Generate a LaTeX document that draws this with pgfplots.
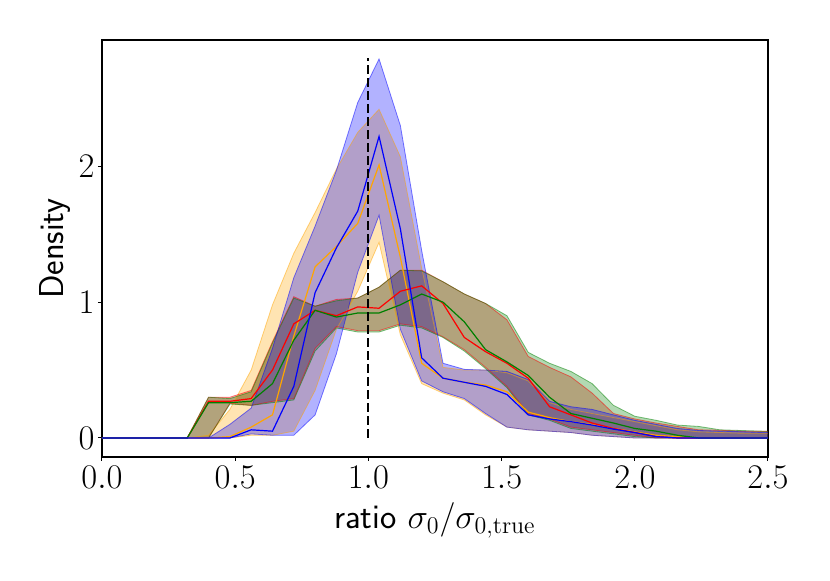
\documentclass[border=0pt]{standalone}
\usepackage{fontspec}
\usepackage{pgfplots}
\pgfplotsset{compat=1.18}
\usepackage{pgfplotstable}
\usepgfplotslibrary{fillbetween}
\definecolor{mplorange}{rgb}{1,0.647,0}
\definecolor{mplgreen}{rgb}{0,0.502,0}
\definecolor{mplred}{rgb}{1,0,0}
\definecolor{mplblue}{rgb}{0,0,1}

\pgfplotstableread{
x lo mid hi
0.00 0 0 0
0.08 0 0 0
0.16 0 0 0
0.24 0 0 0
0.32 0 0 0
0.40 0 0 0.02
0.48 0 0.01 0.21
0.56 0.02 0.08 0.50
0.64 0.02 0.17 0.98
0.72 0.05 0.75 1.36
0.80 0.35 1.26 1.66
0.88 0.80 1.41 1.98
0.96 1.08 1.58 2.25
1.04 1.44 2.01 2.42
1.12 0.76 1.33 2.07
1.20 0.40 0.55 1.25
1.28 0.33 0.44 0.52
1.36 0.28 0.41 0.50
1.44 0.17 0.39 0.50
1.52 0.08 0.34 0.48
1.60 0.06 0.19 0.42
1.68 0.05 0.15 0.26
1.76 0.04 0.12 0.21
1.84 0.02 0.10 0.18
1.92 0.01 0.07 0.15
2.00 0 0.045 0.12
2.08 0 0.02 0.09
2.16 0 0.01 0.06
2.24 0 0 0.045
2.32 0 0 0.04
2.40 0 0 0.035
2.48 0 0 0.035
2.56 0 0 0.035
}\odata

\pgfplotstableread{
x lo mid hi
0.00 0 0 0
0.08 0 0 0
0.16 0 0 0
0.24 0 0 0
0.32 0 0 0
0.40 0 0.27 0.30
0.48 0.255 0.27 0.30
0.56 0.24 0.29 0.35
0.64 0.27 0.50 0.71
0.72 0.29 0.84 1.04
0.80 0.66 0.94 0.97
0.88 0.82 0.90 1.02
0.96 0.79 0.965 1.03
1.04 0.79 0.955 1.11
1.12 0.84 1.08 1.235
1.20 0.82 1.12 1.235
1.28 0.745 0.99 1.15
1.36 0.65 0.74 1.06
1.44 0.52 0.635 0.99
1.52 0.38 0.55 0.87
1.60 0.18 0.44 0.60
1.68 0.14 0.23 0.52
1.76 0.08 0.17 0.45
1.84 0.06 0.11 0.33
1.92 0.04 0.07 0.18
2.00 0.02 0.04 0.14
2.08 0 0.01 0.11
2.16 0 0 0.085
2.24 0 0 0.06
2.32 0 0 0.057
2.40 0 0 0.05
2.48 0 0 0.05
2.56 0 0 0.05
}\rdata

\pgfplotstableread{
x lo mid hi
0.00 0 0 0
0.08 0 0 0
0.16 0 0 0
0.24 0 0 0
0.32 0 0 0
0.40 0 0.26 0.30
0.48 0.25 0.26 0.29
0.56 0.24 0.27 0.34
0.64 0.26 0.40 0.70
0.72 0.28 0.72 1.03
0.80 0.64 0.94 0.97
0.88 0.81 0.89 1.01
0.96 0.78 0.92 1.03
1.04 0.78 0.92 1.11
1.12 0.83 0.98 1.235
1.20 0.81 1.06 1.23
1.28 0.74 1.00 1.15
1.36 0.64 0.855 1.06
1.44 0.51 0.65 0.99
1.52 0.37 0.56 0.90
1.60 0.17 0.46 0.63
1.68 0.13 0.30 0.55
1.76 0.07 0.18 0.49
1.84 0.05 0.145 0.40
1.92 0.03 0.11 0.24
2.00 0.01 0.07 0.16
2.08 0 0.05 0.13
2.16 0 0.02 0.095
2.24 0 0 0.085
2.32 0 0 0.06
2.40 0 0 0.055
2.48 0 0 0.05
2.56 0 0 0.05
}\gdata

\pgfplotstableread{
x lo mid hi
0.00 0 0 0
0.08 0 0 0
0.16 0 0 0
0.24 0 0 0
0.32 0 0 0
0.40 0 0 0
0.48 0 0 0.10
0.56 0.03 0.06 0.22
0.64 0.02 0.05 0.66
0.72 0.02 0.38 1.18
0.80 0.17 1.07 1.56
0.88 0.62 1.40 1.97
0.96 1.22 1.67 2.47
1.04 1.64 2.22 2.79
1.12 0.80 1.54 2.30
1.20 0.42 0.59 1.38
1.28 0.34 0.44 0.55
1.36 0.29 0.41 0.505
1.44 0.18 0.38 0.50
1.52 0.08 0.32 0.49
1.60 0.06 0.17 0.43
1.68 0.05 0.14 0.27
1.76 0.04 0.12 0.23
1.84 0.02 0.095 0.21
1.92 0.01 0.065 0.17
2.00 0 0.04 0.13
2.08 0 0.01 0.10
2.16 0 0 0.07
2.24 0 0 0.055
2.32 0 0 0.05
2.40 0 0 0.046
2.48 0 0 0.04
2.56 0 0 0.04
}\bdata

\begin{document}
\begin{tikzpicture}
\begin{axis}[
  scale only axis,
  width=333pt, height=208.5pt,
  xmin=0, xmax=2.5, ymin=-0.14, ymax=2.93,
  xtick={0,0.5,1,1.5,2,2.5},
  xticklabels={$0.0$,$0.5$,$1.0$,$1.5$,$2.0$,$2.5$},
  ytick={0,1,2},
  tick align=outside, tick pos=left,
  major tick length=2pt,
  every tick/.style={black, line width=0.5pt},
  tick label style={font=\fontsize{17.28}{21}\selectfont},
  xticklabel style={yshift=0.8pt},
  yticklabel style={xshift=1.8pt},
  label style={font=\fontsize{17.28}{21}\selectfont},
  xlabel={\sffamily ratio $\sigma_0/\sigma_{0,\mathrm{true}}$},
  ylabel={\sffamily Density},
  xlabel style={at={(axis description cs:0.5,-0.153)}, anchor=center},
  ylabel style={at={(axis description cs:-0.0706,0.5)}, anchor=center},
  axis line style={line width=0.6pt},
  clip=true,
]
% bands
\addplot[draw=mplorange, draw opacity=0.5, line width=0.4pt, name path=ohi] table[x=x,y=hi]{\odata};
\addplot[draw=mplorange, draw opacity=0.5, line width=0.4pt, name path=olo] table[x=x,y=lo]{\odata};
\addplot[fill=mplorange, fill opacity=0.3, draw=none] fill between[of=ohi and olo];

\addplot[draw=mplred, draw opacity=0.5, line width=0.4pt, name path=rhi] table[x=x,y=hi]{\rdata};
\addplot[draw=mplred, draw opacity=0.5, line width=0.4pt, name path=rlo] table[x=x,y=lo]{\rdata};
\addplot[fill=mplred, fill opacity=0.3, draw=none] fill between[of=rhi and rlo];

\addplot[draw=mplgreen, draw opacity=0.5, line width=0.4pt, name path=ghi] table[x=x,y=hi]{\gdata};
\addplot[draw=mplgreen, draw opacity=0.5, line width=0.4pt, name path=glo] table[x=x,y=lo]{\gdata};
\addplot[fill=mplgreen, fill opacity=0.3, draw=none] fill between[of=ghi and glo];

\addplot[draw=mplblue, draw opacity=0.5, line width=0.4pt, name path=bhi] table[x=x,y=hi]{\bdata};
\addplot[draw=mplblue, draw opacity=0.5, line width=0.4pt, name path=blo] table[x=x,y=lo]{\bdata};
\addplot[fill=mplblue, fill opacity=0.3, draw=none] fill between[of=bhi and blo];

% mean lines
\addplot[mplorange, line width=0.6pt] table[x=x,y=mid]{\odata};
\addplot[mplred, line width=0.6pt] table[x=x,y=mid]{\rdata};
\addplot[mplgreen, line width=0.6pt] table[x=x,y=mid]{\gdata};
\addplot[mplblue, line width=0.6pt] table[x=x,y=mid]{\bdata};

% reference line
\addplot[black, line width=1pt, dash pattern=on 4.5pt off 2pt] coordinates {(1,0) (1,2.8)};
\end{axis}
\pgfresetboundingbox
\path[use as bounding box] (-51pt,-62pt) rectangle (364pt,228.5pt);
\end{tikzpicture}
\end{document}
